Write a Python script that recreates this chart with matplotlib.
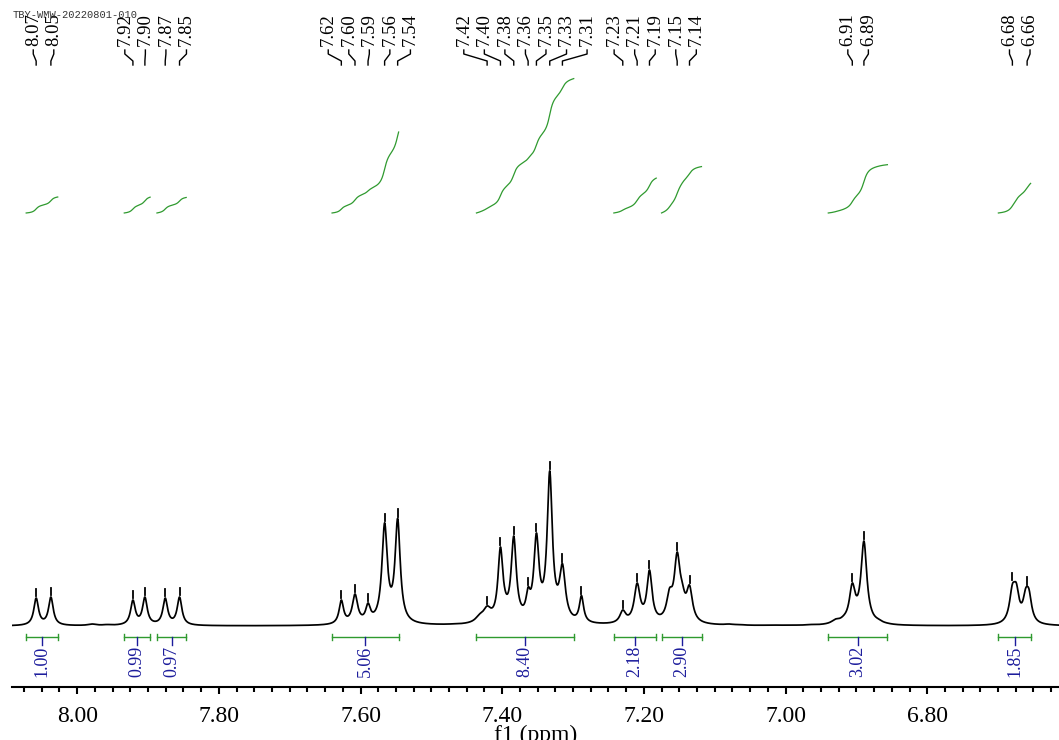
import numpy as np
import matplotlib.pyplot as plt

# peaks: shift (ppm), apex height above baseline, half width (ppm)
shifts = [8.0579, 8.0371, 7.9790, 7.9580,
          7.9213, 7.9044, 7.8757, 7.8555,
          7.6271, 7.6078, 7.5894, 7.5660, 7.5476,
          7.5250, 7.4960, 7.4700,
          7.4320, 7.4213, 7.4025, 7.3965, 7.3837, 7.3634, 7.3517, 7.3329, 7.3150, 7.2970, 7.2881,
          7.2298, 7.2095, 7.1921, 7.1638, 7.1530, 7.1459, 7.1356,
          7.0800, 7.0650, 7.0200, 6.9950, 6.9650,
          6.9294, 6.9176, 6.9058, 6.8894, 6.8799, 6.8686, 6.8564,
          6.6798, 6.6742, 6.6610, 6.6564]
tops = [28, 29, 2, 1.5,
        26, 29, 28, 29,
        26, 32, 23, 103, 107,
        1.5, 1.5, 2,
        12, 20, 79, 38, 90, 39, 93, 155, 62, 5, 29,
        16, 43, 56, 38, 74, 44, 41,
        2, 1.5, 1, 1, 1.5,
        7, 11, 43, 85, 20, 7, 3,
        42, 43, 38, 37]
hwhm = [0.0040, 0.0040, 0.007, 0.007,
        0.0040, 0.0040, 0.0040, 0.0040,
        0.0038, 0.0046, 0.0040, 0.0046, 0.0044,
        0.009, 0.009, 0.009,
        0.007, 0.0070, 0.0042, 0.0046, 0.0044, 0.0036, 0.0044, 0.0044, 0.0050, 0.005, 0.0036,
        0.0050, 0.0050, 0.0044, 0.0050, 0.0050, 0.0046, 0.0050,
        0.007, 0.007, 0.009, 0.009, 0.007,
        0.007, 0.007, 0.0050, 0.0050, 0.0058, 0.007, 0.007,
        0.0050, 0.0046, 0.0046, 0.0046]

# picked peaks and their labels
pick_shift = [8.0579, 8.0371, 7.9213, 7.9044, 7.8757, 7.8555,
              7.6271, 7.6078, 7.5894, 7.5660, 7.5476,
              7.4213, 7.4025, 7.3837, 7.3634, 7.3517, 7.3329, 7.3150,
              7.2298, 7.2095, 7.1921, 7.1530, 7.1356,
              6.9058, 6.8894, 6.6798, 6.6590]
pick_label = ["8.07", "8.05", "7.92", "7.90", "7.87", "7.85",
              "7.62", "7.60", "7.59", "7.56", "7.54",
              "7.42", "7.40", "7.38", "7.36", "7.35", "7.33", "7.31",
              "7.23", "7.21", "7.19", "7.15", "7.14",
              "6.91", "6.89", "6.68", "6.66"]
tick_only = [7.2881]

# integration regions (ppm) and values
int_from = [8.0720, 7.9336, 7.8874, 7.6403, 7.4364, 7.2425, 7.1751, 6.9397, 6.6996]
int_to = [8.0273, 7.8969, 7.8460, 7.5462, 7.2990, 7.1826, 7.1186, 6.8562, 6.6540]
int_value = [1.00, 0.99, 0.97, 5.06, 8.40, 2.18, 2.90, 3.02, 1.85]

GREEN = "#2f9a2f"
BLUE = "#1c1c9c"
SERIF = "Liberation Serif"


def lorentz(x, x0, g):
    return g ** 2 / ((x - x0) ** 2 + g ** 2)


def build_spectrum(x):
    """amplitudes solved so the sum hits the read apex heights"""
    s = np.array(shifts)
    g = np.array(hwhm)
    A = lorentz(s[:, None], s[None, :], g[None, :])
    amps = np.clip(np.linalg.solve(A, np.array(tops, float)), 0, None)
    y = np.zeros_like(x)
    for a, c, w in zip(amps, s, g):
        y += a * lorentz(x, c, w)
    return y


def spread(pos, gap):
    """spread label positions (descending ppm) so they keep a minimum gap"""
    clusters = [[p] for p in pos]
    changed = True
    while changed:
        changed = False
        out = [clusters[0]]
        for c in clusters[1:]:
            prev = out[-1]
            pc = np.mean(prev)
            cc = np.mean(c)
            prev_last = pc - gap * (len(prev) - 1) / 2
            c_first = cc + gap * (len(c) - 1) / 2
            if prev_last - c_first < gap:
                out[-1] = prev + c
                changed = True
            else:
                out.append(c)
        clusters = out
    res = []
    for c in clusters:
        m = np.mean(c)
        n = len(c)
        res += [m + gap * ((n - 1) / 2 - k) for k in range(n)]
    return res


ppm = np.linspace(8.092, 6.614, 9000)
spec = build_spectrum(ppm)

fig = plt.figure(figsize=(10.59, 7.40), dpi=100)
ax = fig.add_axes([12 / 1059, 53 / 740, 1047 / 1059, 687 / 740])
ax.set_xlim(8.092, 6.614)
ax.set_ylim(0, 687)

base = 61  # spectrum baseline above the axis line
ax.plot(ppm, base + spec, color="black", lw=1.25)

# peak ticks
for p in pick_shift + tick_only:
    w = np.abs(ppm - p) < 0.002
    top = base + spec[w].max()
    ax.plot([p, p], [top + 1.5, top + 9], color="black", lw=1.3)

# peak labels with connectors
lab_pos = spread(pick_shift, 0.029)
for p, lp, t in zip(pick_shift, lab_pos, pick_label):
    ax.plot([lp, lp, p, p], [637, 633, 626, 622], color="black", lw=1.0)
    ax.text(lp, 641, t, rotation=90, ha="center", va="bottom",
            fontsize=13.5, family=SERIF, clip_on=False)

# integrals
for a, b, v in zip(int_from, int_to, int_value):
    w = (ppm <= a) & (ppm >= b)
    seg = spec[w]
    cum = np.cumsum(seg)
    cum = cum / cum[-1]
    ax.plot(ppm[w], 474 + v * 16 * cum, color=GREEN, lw=0.9)
    ax.plot([a, b], [50.5, 50.5], color=GREEN, lw=1.0)
    ax.plot([a, a], [47.5, 53.5], color=GREEN, lw=1.0)
    ax.plot([b, b], [47.5, 53.5], color=GREEN, lw=1.0)
    m = (a + b) / 2
    ax.plot([m, m], [50.5, 42], color=BLUE, lw=1.0)
    ax.text(m, 41, f"{v:.2f}", rotation=90, ha="center", va="top",
            fontsize=13, family=SERIF, color=BLUE)

for side in ["left", "right", "top"]:
    ax.spines[side].set_visible(False)
ax.spines["bottom"].set_linewidth(1.5)
ax.set_yticks([])
ax.set_xticks(np.arange(6.8, 8.01, 0.2))
ax.set_xticks(np.arange(6.625, 8.09, 0.025), minor=True)
ax.xaxis.set_major_formatter(plt.FormatStrFormatter("%.2f"))
ax.tick_params(axis="x", which="major", length=5, width=1.5, pad=9, labelsize=17)
ax.tick_params(axis="x", which="minor", length=3.5, width=1.5)
for lbl in ax.get_xticklabels():
    lbl.set_family(SERIF)
ax.set_xlabel("f1 (ppm)", fontsize=17, family=SERIF, labelpad=-2)

fig.text(13 / 1059, 1 - 15 / 740, "TBY-WMW-20220801-010", fontsize=7.5,
         family="Liberation Mono", color="#333333", va="center")

fig.savefig("out.png", dpi=100)
